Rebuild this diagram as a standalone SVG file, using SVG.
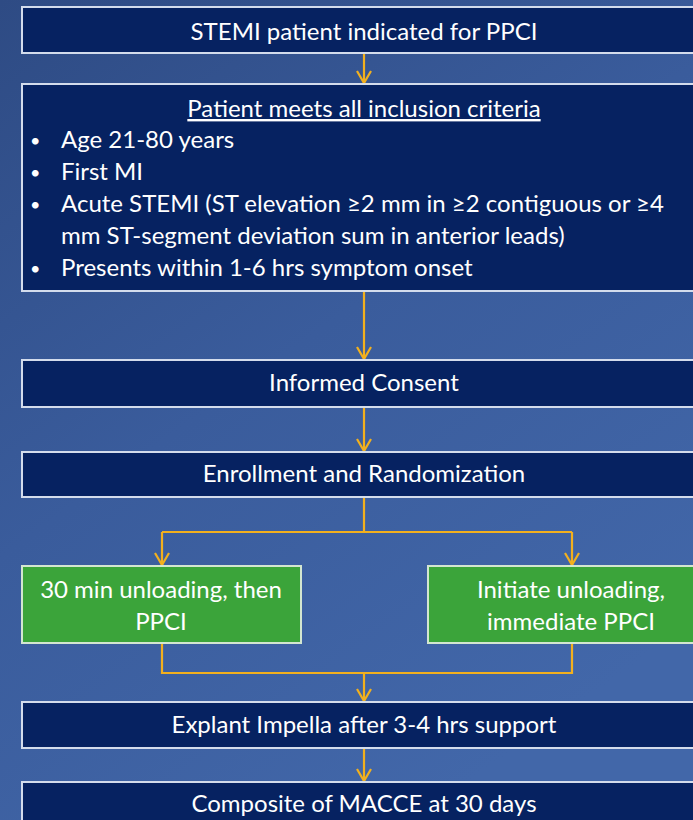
<svg xmlns="http://www.w3.org/2000/svg" width="693" height="820" viewBox="0 0 693 820">
  <defs>
    <linearGradient id="bg" x1="0" y1="0" x2="0.6" y2="1">
      <stop offset="0" stop-color="#2e4b84"/>
      <stop offset="0.5" stop-color="#3a5c9c"/>
      <stop offset="1" stop-color="#4267a9"/>
    </linearGradient>
    <!-- open V arrowhead, drawn pointing along +x so orient="auto" turns it with the line -->
    <marker id="head" viewBox="0 0 14 16" refX="13" refY="8" markerWidth="14" markerHeight="16" markerUnits="userSpaceOnUse" orient="auto">
      <polyline points="1,1 13,8 1,15" fill="none" stroke="#f2b01e" stroke-width="2.2"/>
    </marker>
  </defs>
  <style>
    .navy { fill: #062261; stroke: #d3dcec; stroke-width: 2; }
    .green { fill: #3ba43a; stroke: #d3e6d0; stroke-width: 2; }
    .t { font-family: Lato, "Liberation Sans", sans-serif; font-size: 24px; fill: #ffffff; }
    .b { font-family: Lato, "Liberation Sans", sans-serif; font-size: 18px; fill: #ffffff; }
    .c { text-anchor: middle; }
    .wire { fill: none; stroke: #f2b01e; stroke-width: 2.2; }
    .arrow { fill: none; stroke: #f2b01e; stroke-width: 2.2; marker-end: url(#head); }
  </style>

  <rect width="693" height="820" fill="url(#bg)"/>

  <!-- connectors -->
  <g id="connectors">
    <line class="arrow" x1="364" y1="53" x2="364" y2="83"/>
    <line class="arrow" x1="364" y1="291" x2="364" y2="359"/>
    <line class="arrow" x1="364" y1="407" x2="364" y2="451"/>
    <polyline class="wire" points="364,497 364,532 162,532"/>
    <polyline class="wire" points="364,532 572,532"/>
    <line class="arrow" x1="162" y1="532" x2="162" y2="565"/>
    <line class="arrow" x1="572" y1="532" x2="572" y2="565"/>
    <polyline class="wire" points="162,644 162,673 572,673 572,644"/>
    <line class="arrow" x1="364" y1="673" x2="364" y2="701"/>
    <line class="arrow" x1="364" y1="749" x2="364" y2="781"/>
  </g>

  <g id="stemi">
    <rect class="navy" x="22" y="7" width="690" height="46"/>
    <text class="t c" x="364" y="40">STEMI patient indicated for PPCI</text>
  </g>

  <g id="inclusion">
    <rect class="navy" x="22" y="84" width="690" height="207"/>
    <text class="t c" x="364" y="117" text-decoration="underline">Patient meets all inclusion criteria</text>
    <text class="b" x="30" y="147">•</text>
    <text class="t" x="61" y="148">Age 21-80 years</text>
    <text class="b" x="30" y="179">•</text>
    <text class="t" x="61" y="180">First MI</text>
    <text class="b" x="30" y="211">•</text>
    <text class="t" x="61" y="212">Acute STEMI (ST elevation ≥2 mm in ≥2 contiguous or ≥4</text>
    <text class="t" x="61" y="244">mm ST-segment deviation sum in anterior leads)</text>
    <text class="b" x="30" y="275">•</text>
    <text class="t" x="61" y="276">Presents within 1-6 hrs symptom onset</text>
  </g>

  <g id="consent">
    <rect class="navy" x="22" y="360" width="690" height="47"/>
    <text class="t c" x="364" y="391">Informed Consent</text>
  </g>

  <g id="randomization">
    <rect class="navy" x="22" y="452" width="690" height="45"/>
    <text class="t c" x="364" y="482">Enrollment and Randomization</text>
  </g>

  <g id="arm-delayed">
    <rect class="green" x="22" y="566" width="279" height="77"/>
    <text class="t c" x="161" y="598">30 min unloading, then</text>
    <text class="t c" x="161" y="630">PPCI</text>
  </g>

  <g id="arm-immediate">
    <rect class="green" x="428" y="566" width="290" height="77"/>
    <text class="t c" x="571" y="598">Initiate unloading,</text>
    <text class="t c" x="571" y="630">immediate PPCI</text>
  </g>

  <g id="explant">
    <rect class="navy" x="22" y="702" width="690" height="46"/>
    <text class="t c" x="364" y="733">Explant Impella after 3-4 hrs support</text>
  </g>

  <g id="outcome">
    <rect class="navy" x="22" y="782" width="690" height="60"/>
    <text class="t c" x="364" y="812">Composite of MACCE at 30 days</text>
  </g>
</svg>
